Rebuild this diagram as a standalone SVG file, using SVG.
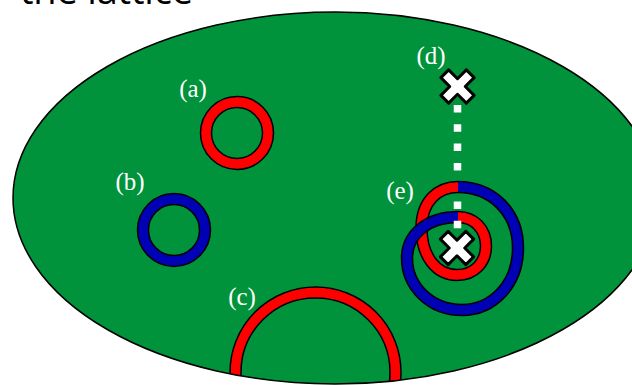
<svg xmlns="http://www.w3.org/2000/svg" width="632" height="385" viewBox="0 0 632 385">
  <defs>
    <style>
      .lbl{font-family:"Liberation Serif","DejaVu Serif",serif;font-size:25px;fill:#fff;text-anchor:middle}
      .edge{fill:none;stroke:#000;stroke-width:12.5}
      .red{fill:none;stroke:#ff0000;stroke-width:9.5}
      .blue{fill:none;stroke:#0000b4;stroke-width:9.5}
      .mark{fill:#fff;stroke:#000;stroke-width:3;stroke-linejoin:round}
      .dots{fill:none;stroke:#fff;stroke-width:7.5}
    </style>
    <clipPath id="field">
      <ellipse cx="335" cy="198" rx="322" ry="186"/>
    </clipPath>
    <polygon id="cross" transform="rotate(45)" points="-5.5,-18 5.5,-18 5.5,-5.5 18,-5.5 18,5.5 5.5,5.5 5.5,18 -5.5,18 -5.5,5.5 -18,5.5 -18,-5.5 -5.5,-5.5"/>
  </defs>

  <!-- heading, partly cut off at the top edge -->
  <text x="20" y="4" font-family="'Open Sans','Liberation Sans',sans-serif" font-size="38" textLength="173" lengthAdjust="spacing" fill="#000">the lattice</text>

  <!-- the lattice region -->
  <g id="lattice">
    <ellipse cx="335" cy="198" rx="322" ry="186" fill="#00933b"/>
  </g>

  <!-- (a) small red loop -->
  <g id="loop-a">
    <circle class="edge" cx="237" cy="133" r="31"/>
    <circle class="red" cx="237" cy="133" r="31"/>
    <text class="lbl" x="193" y="97">(a)</text>
  </g>

  <!-- (b) small blue loop -->
  <g id="loop-b">
    <circle class="edge" cx="174" cy="230" r="31"/>
    <circle class="blue" cx="174" cy="230" r="31"/>
    <text class="lbl" x="130" y="190">(b)</text>
  </g>

  <!-- (c) red loop ending at the boundary -->
  <g id="loop-c">
    <g clip-path="url(#field)">
      <circle class="edge" cx="315.5" cy="372.5" r="80"/>
      <circle class="red" cx="315.5" cy="372.5" r="80"/>
    </g>
    <text class="lbl" x="242" y="305">(c)</text>
  </g>

  <!-- boundary outline on top of the clipped loop -->
  <ellipse cx="335" cy="198" rx="322" ry="186" fill="none" stroke="#000" stroke-width="1.5"/>

  <!-- (e) red/blue loop winding twice around the defect -->
  <g id="loop-e">
    <path class="edge" d="M458,187 C438,187 421.5,201 421.5,228 C421.5,256 436,275 457,275 C475,275 486,262 486,246 C486,229 474,217 458,217"/>
    <path class="red" d="M458,187 C438,187 421.5,201 421.5,228 C421.5,256 436,275 457,275 C475,275 486,262 486,246 C486,229 474,217 458,217"/>
    <path class="edge" d="M458,187 C492,187 518,212 518,248 C518,284 493,310 462,310 C430,310 407,286 407,258 C407,234 428,217 458,217"/>
    <path class="blue" d="M458,187 C492,187 518,212 518,248 C518,284 493,310 462,310 C430,310 407,286 407,258 C407,234 428,217 458,217"/>
    <text class="lbl" x="400" y="199">(e)</text>
  </g>

  <!-- dotted string from defect (d) to defect (e) -->
  <g id="connectors">
    <path class="dots" d="M457.5,105v7.5M457.5,124.3v7.5M457.5,143.6v7.5M457.5,162.9v7.5M457.5,201.5v7.5M457.5,220.8v7.5"/>
  </g>

  <!-- (d) defect mark -->
  <g id="defect-d">
    <use href="#cross" class="mark" x="457.5" y="86.5"/>
    <text class="lbl" x="431" y="64">(d)</text>
  </g>

  <!-- defect mark inside loop (e) -->
  <g id="defect-e">
    <use href="#cross" class="mark" x="457" y="248"/>
  </g>
</svg>
